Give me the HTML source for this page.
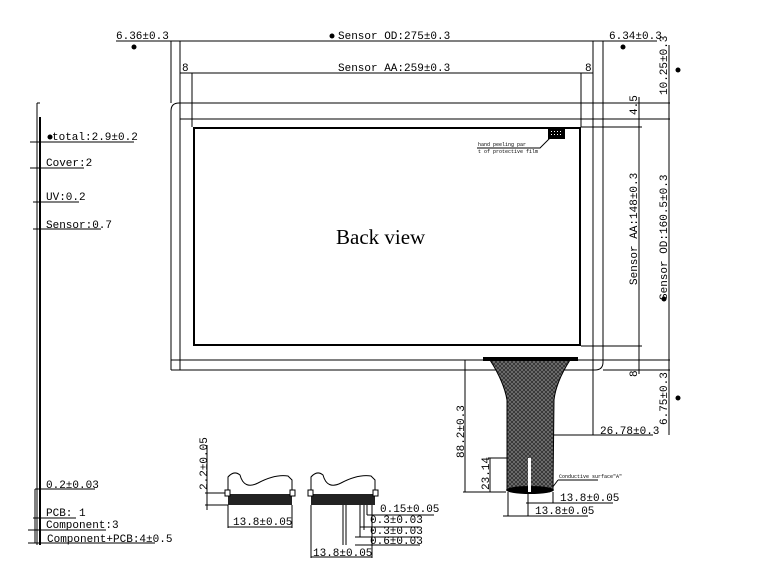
<!DOCTYPE html>
<html><head><meta charset="utf-8"><style>
html,body{margin:0;padding:0;background:#fff;}
svg{display:block;}
text{font-family:"Liberation Mono",monospace;fill:#000;}
</style></head><body>
<svg width="763" height="565" viewBox="0 0 763 565" xmlns="http://www.w3.org/2000/svg">
<defs>
<pattern id="hatch" width="4" height="4" patternUnits="userSpaceOnUse">
<rect width="4" height="4" fill="#333"/>
<path d="M0,4 L4,0 M0,0 L4,4" stroke="#888" stroke-width="0.6"/>
</pattern>
</defs>
<g stroke="#000" stroke-width="1" fill="none">
<path d="M171,370 L171,111 Q171,103 179,103 L603,103"/>
<path d="M171,370 L595,370 Q603,370 603,362 L603,103"/>
<line x1="180" y1="41" x2="180" y2="370"/>
<line x1="593" y1="41" x2="593" y2="435"/>
<line x1="171" y1="41" x2="171" y2="103"/>
<line x1="603" y1="41" x2="603" y2="103"/>
<line x1="180" y1="119" x2="670" y2="119"/>
<line x1="171" y1="360" x2="670" y2="360"/>
<line x1="603" y1="103" x2="670" y2="103"/>
<line x1="603" y1="370" x2="670" y2="370"/>
<line x1="192" y1="73" x2="192" y2="127"/>
<line x1="581" y1="73" x2="581" y2="127"/>
<line x1="581" y1="127" x2="642" y2="127"/>
<line x1="581" y1="346" x2="642" y2="346"/>
<line x1="171" y1="41" x2="603" y2="41"/>
<line x1="180" y1="73" x2="593" y2="73"/>
<line x1="116" y1="41" x2="171" y2="41"/>
<line x1="603" y1="41" x2="657" y2="41"/>
<line x1="639" y1="97" x2="639" y2="374"/>
<line x1="669" y1="45" x2="669" y2="435"/>
<line x1="37" y1="103" x2="37" y2="545"/>
<line x1="40" y1="117" x2="40" y2="545" stroke-width="2"/>
<line x1="37" y1="103" x2="40" y2="103"/>
<line x1="30" y1="142" x2="134" y2="142"/>
<line x1="30" y1="168" x2="84" y2="168"/>
<line x1="33" y1="202" x2="79" y2="202"/>
<line x1="33" y1="229" x2="101" y2="229"/>
<line x1="35" y1="489" x2="95" y2="489"/>
<line x1="33" y1="518" x2="76" y2="518"/>
<line x1="28" y1="530" x2="106" y2="530"/>
<line x1="28" y1="543" x2="155" y2="543"/>
<line x1="35" y1="489" x2="35" y2="543"/>
<line x1="465" y1="360" x2="465" y2="492"/>
<line x1="463" y1="492" x2="506" y2="492"/>
<line x1="490" y1="458" x2="490" y2="492"/>
<line x1="488" y1="458" x2="530" y2="458"/>
<line x1="553" y1="435" x2="653" y2="435"/>
<line x1="508" y1="492" x2="508" y2="516"/>
<line x1="553" y1="492" x2="553" y2="503"/>
<line x1="528" y1="492" x2="528" y2="516"/>
<line x1="526" y1="503" x2="613" y2="503"/>
<line x1="503" y1="516" x2="588" y2="516"/>
<path d="M558,480 L598,480 M558,480 L552,488"/>
<path d="M477,148 L540,148 L550,138"/>
</g>
<rect x="194" y="128" width="386" height="217" fill="none" stroke="#000" stroke-width="2"/>
<rect x="548" y="128" width="17" height="11" fill="#000"/>
<g fill="#fff"><rect x="551" y="131" width="1" height="1"/><rect x="554" y="131" width="1" height="1"/><rect x="557" y="131" width="1" height="1"/><rect x="560" y="131" width="1" height="1"/><rect x="551" y="134" width="1" height="1"/><rect x="554" y="134" width="1" height="1"/><rect x="557" y="134" width="1" height="1"/><rect x="560" y="134" width="1" height="1"/></g>
<path d="M490,360 L570,360 Q556,382 554,400 L553,490 L507,490 L507,400 Q504,382 490,360 Z" fill="url(#hatch)" stroke="#000"/>
<rect x="483" y="357" width="95" height="4" fill="#000"/>
<ellipse cx="530" cy="490" rx="24" ry="4" fill="#000"/>
<rect x="528" y="458" width="3" height="34" fill="#fff"/>
<g stroke="#000" fill="none">
<path d="M228,493 L228,477 Q234,470 240,475 Q244,490 258,483 Q275,474 288,476 L292,480 L292,493"/>
<path d="M311,493 L311,477 Q317,470 323,475 Q327,490 341,483 Q358,474 371,476 L375,480 L375,493"/>
<line x1="205" y1="493" x2="228" y2="493"/><line x1="205" y1="505" x2="228" y2="505"/>
<line x1="207" y1="445" x2="207" y2="510"/>
<line x1="228" y1="505" x2="228" y2="528"/><line x1="292" y1="505" x2="292" y2="528"/>
<line x1="228" y1="527" x2="292" y2="527"/>
<line x1="311" y1="505" x2="311" y2="558"/><line x1="372" y1="505" x2="372" y2="558"/>
<line x1="311" y1="557" x2="372" y2="557"/>
<line x1="343" y1="505" x2="343" y2="545"/><line x1="346" y1="505" x2="346" y2="545"/>
<line x1="360" y1="505" x2="360" y2="537"/><line x1="364" y1="505" x2="364" y2="530"/><line x1="367" y1="505" x2="367" y2="515"/>
<line x1="367" y1="515" x2="434" y2="515"/><line x1="360" y1="527" x2="420" y2="527"/>
<line x1="355" y1="537" x2="420" y2="537"/><line x1="355" y1="545" x2="420" y2="545"/>
</g>
<rect x="228" y="494" width="64" height="11" fill="#222"/>
<rect x="311" y="494" width="64" height="11" fill="#222"/>
<rect x="225" y="490" width="5" height="6" fill="#fff" stroke="#000"/><rect x="290" y="490" width="5" height="6" fill="#fff" stroke="#000"/>
<rect x="308" y="490" width="5" height="6" fill="#fff" stroke="#000"/><rect x="373" y="490" width="5" height="6" fill="#fff" stroke="#000"/>
<g font-size="11">
<text x="116" y="39">6.36±0.3</text>
<text x="338" y="39">Sensor OD:275±0.3</text>
<text x="609" y="39">6.34±0.3</text>
<text x="338" y="71">Sensor AA:259±0.3</text>
<text x="182" y="71">8</text>
<text x="585" y="71">8</text>
<text x="52" y="140">total:2.9±0.2</text>
<text x="46" y="166">Cover:2</text>
<text x="46" y="200">UV:0.2</text>
<text x="46" y="228">Sensor:0.7</text>
<text x="46" y="488">0.2±0.03</text>
<text x="46" y="516">PCB: 1</text>
<text x="46" y="528">Component:3</text>
<text x="47" y="542">Component+PCB:4±0.5</text>
<text x="600" y="434">26.78±0.3</text>
<text x="560" y="501">13.8±0.05</text>
<text x="535" y="514">13.8±0.05</text>
<text x="233" y="525">13.8±0.05</text>
<text x="313" y="556">13.8±0.05</text>
<text x="380" y="512">0.15±0.05</text>
<text x="370" y="523">0.3±0.03</text>
<text x="370" y="534">0.3±0.03</text>
<text x="370" y="544">0.6±0.03</text>
<text transform="translate(637,285) rotate(-90)">Sensor AA:148±0.3</text>
<text transform="translate(667,300) rotate(-90)">Sensor OD:160.5±0.3</text>
<text transform="translate(667,95) rotate(-90)">10.25±0.3</text>
<text transform="translate(667,425) rotate(-90)">6.75±0.3</text>
<text transform="translate(637,115) rotate(-90)">4.5</text>
<text transform="translate(637,377) rotate(-90)">8</text>
<text transform="translate(464,458) rotate(-90)">88.2±0.3</text>
<text transform="translate(489,490) rotate(-90)">23.14</text>
<text transform="translate(207,490) rotate(-90)">2.2±0.05</text>
</g>
<text x="336" y="244" font-size="21" style="font-family:'Liberation Serif',serif">Back view</text>
<text x="478" y="146" font-size="5">hand peeling par</text>
<text x="478" y="153" font-size="5">t of protective film</text>
<text x="559" y="478" font-size="5">Conductive surface"A"</text>
<g fill="#000"><circle cx="134" cy="47" r="2.5"/><circle cx="332" cy="36" r="2.5"/><circle cx="623" cy="47" r="2.5"/><circle cx="678" cy="70" r="2.5"/><circle cx="664" cy="299" r="2.5"/><circle cx="678" cy="398" r="2.5"/><circle cx="50" cy="137" r="2.5"/></g>
</svg>
</body></html>
